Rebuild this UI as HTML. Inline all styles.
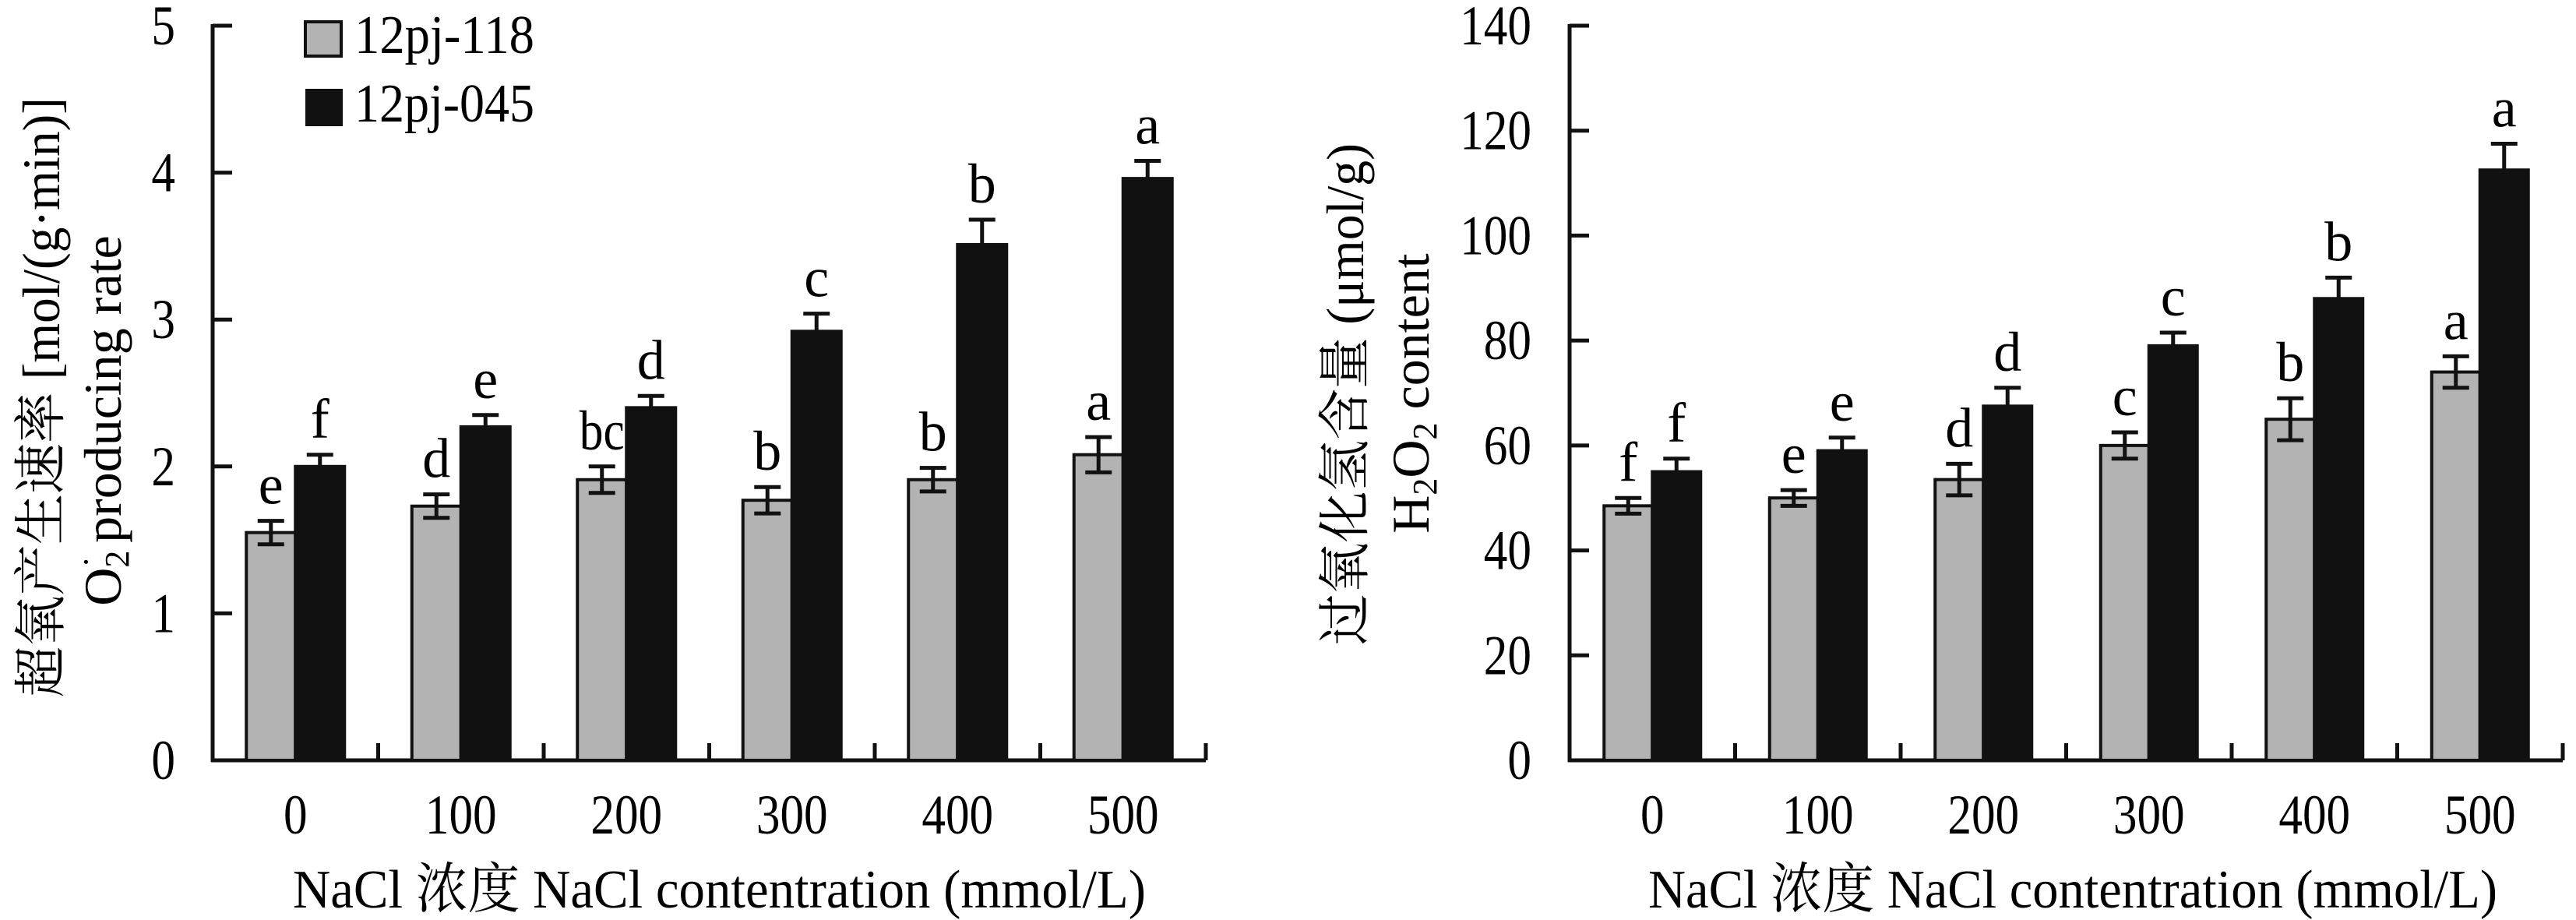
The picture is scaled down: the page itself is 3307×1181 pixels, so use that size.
<!DOCTYPE html>
<html><head><meta charset="utf-8"><style>
html,body{margin:0;padding:0;background:#fff;}
svg{display:block;font-family:"Liberation Serif","Noto Serif CJK SC",serif;}
</style></head><body>
<svg id="chart" width="3307" height="1181" viewBox="0 0 3307 1181" xmlns="http://www.w3.org/2000/svg">
  <g id="left"></g>
  <g id="right"></g>
  <g>
    <rect x="392" y="28" width="46" height="44" fill="#b3b3b3" stroke="#111" stroke-width="4"/>
    <text x="455" y="68" font-size="70" textLength="231" lengthAdjust="spacingAndGlyphs">12pj-118</text>
    <rect x="392" y="114" width="48" height="48" fill="#111"/>
    <text x="455" y="156" font-size="70" textLength="231" lengthAdjust="spacingAndGlyphs">12pj-045</text>
  </g>
  <g font-size="68">
    <text transform="translate(76,510) rotate(-90)" text-anchor="middle" textLength="770" lengthAdjust="spacingAndGlyphs">超氧产生速率 [mol/(g·min)]</text>
    <text transform="translate(155,540) rotate(-90)" text-anchor="middle">O<tspan font-size="44" dy="10">2</tspan><tspan font-size="44" dx="-22" dy="-40">·</tspan><tspan dy="30"> producing rate</tspan></text>
  </g>
  <g font-size="68">
    <text transform="translate(1750,506) rotate(-90)" text-anchor="middle" textLength="644" lengthAdjust="spacingAndGlyphs">过氧化氢含量 (μmol/g)</text>
    <text transform="translate(1834,505) rotate(-90)" text-anchor="middle">H<tspan font-size="44" dy="10">2</tspan><tspan dy="-10">O</tspan><tspan font-size="44" dy="10">2</tspan><tspan dy="-10"> content</tspan></text>
  </g>
  <text x="376" y="1165" font-size="70" textLength="1095" lengthAdjust="spacingAndGlyphs">NaCl 浓度 NaCl contentration (mmol/L)</text>
  <text x="2116" y="1165" font-size="70" textLength="1090" lengthAdjust="spacingAndGlyphs">NaCl 浓度 NaCl contentration (mmol/L)</text>
</svg>
<script>
const categories = ["0","100","200","300","400","500"];
const o2Gray = [1.55, 1.73, 1.91, 1.77, 1.91, 2.08];
const o2GrayErr = [0.08, 0.08, 0.09, 0.09, 0.08, 0.12];
const o2Black = [2.00, 2.27, 2.40, 2.92, 3.51, 3.96];
const o2BlackErr = [0.08, 0.08, 0.08, 0.12, 0.17, 0.12];
const o2GrayLetters = ["e","d","bc","b","b","a"];
const o2BlackLetters = ["f","e","d","c","b","a"];
const o2Ticks = [0,1,2,3,4,5];
const h2Gray = [48.5, 50, 53.5, 60, 65, 74];
const h2GrayErr = [1.5, 1.5, 3, 2.5, 4, 3];
const h2Black = [55, 59, 67.5, 79, 88, 112.5];
const h2BlackErr = [2.5, 2.5, 3.5, 2.5, 4, 5];
const h2GrayLetters = ["f","e","d","c","b","a"];
const h2BlackLetters = ["f","e","d","c","b","a"];
const h2Ticks = [0,20,40,60,80,100,120,140];

const NS = "http://www.w3.org/2000/svg";
function mk(parent, tag, attrs, text) {
  const e = document.createElementNS(NS, tag);
  for (const k in attrs) e.setAttribute(k, attrs[k]);
  if (text !== undefined) e.textContent = text;
  parent.appendChild(e);
  return e;
}
function drawChart(g, cfg) {
  const y0 = 976, yTop = 33;
  const yScale = v => y0 - (v - cfg.min) / (cfg.max - cfg.min) * (y0 - yTop);
  const cw = (cfg.xEnd - cfg.xAxis) / categories.length;
  const xScale = i => cfg.xAxis + cw * (i + 0.5);
  const ya = mk(g, "line", {x1: cfg.xAxis, y1: yTop - 2, x2: cfg.xAxis, y2: y0 + 2, stroke: "#111", "stroke-width": 5});
  
  
  const xa = mk(g, "line", {x1: cfg.xAxis - 2, y1: y0, x2: cfg.xEnd, y2: y0, stroke: "#111", "stroke-width": 5});
  
  
  cfg.ticks.forEach(t => {
    const y = yScale(t);
    const tk = mk(g, "line", {x1: cfg.xAxis, y1: y, x2: cfg.xAxis + 25, y2: y, stroke: "#111", "stroke-width": 5});
    
    
    const s = String(t);
    const tl = mk(g, "text", {x: cfg.labelX, y: y + 24, "text-anchor": "end", "font-size": 72, textLength: s.length * 30.6, lengthAdjust: "spacingAndGlyphs"}, s);
    
    
  });
  categories.forEach((c, i) => {
    const xt = cfg.xAxis + cw * (i + 1);
    const tk = mk(g, "line", {x1: xt, y1: y0, x2: xt, y2: y0 - 22, stroke: "#111", "stroke-width": 5});
    
    
    const cx = xScale(i);
    const xl = mk(g, "text", {x: cx, y: 1070, "text-anchor": "middle", "font-size": 72, textLength: c.length * 30.6, lengthAdjust: "spacingAndGlyphs"}, c);
    
    
    const series = [
      {v: cfg.gray[i], e: cfg.grayErr[i], l: cfg.grayL[i], x: cx - cfg.bw, fill: "#b3b3b3", name: "bar-12pj-118"},
      {v: cfg.black[i], e: cfg.blackErr[i], l: cfg.blackL[i], x: cx, fill: "#111", name: "bar-12pj-045"}
    ];
    series.forEach(s => {
      const yv = yScale(s.v);
      const r = mk(g, "rect", {x: s.x, y: yv, width: cfg.bw, height: y0 - yv, fill: s.fill, stroke: "#111", "stroke-width": 4});
      
      
      const bx = s.x + cfg.bw / 2;
      const yh = yScale(s.v + s.e), yl = yScale(s.v - s.e);
      const eb = mk(g, "path", {d: `M${bx},${yl}V${yh}M${bx-17},${yh}H${bx+17}M${bx-17},${yl}H${bx+17}`, stroke: "#111", "stroke-width": 5, fill: "none"});
      
      
      const la = {x: bx, y: yh - 22, "text-anchor": "middle", "font-size": 72};
      if (s.l.length > 1) { la.textLength = s.l.length * 29; la.lengthAdjust = "spacingAndGlyphs"; }
      const lt = mk(g, "text", la, s.l);
      
      
    });
  });
}
drawChart(document.getElementById("left"), {xAxis: 273, xEnd: 1548, labelX: 225, min: 0, max: 5, ticks: o2Ticks, bw: 63,
  gray: o2Gray, grayErr: o2GrayErr, black: o2Black, blackErr: o2BlackErr, grayL: o2GrayLetters, blackL: o2BlackLetters});
drawChart(document.getElementById("right"), {xAxis: 2015, xEnd: 3290, labelX: 1966, min: 0, max: 140, ticks: h2Ticks, bw: 62,
  gray: h2Gray, grayErr: h2GrayErr, black: h2Black, blackErr: h2BlackErr, grayL: h2GrayLetters, blackL: h2BlackLetters});
</script>
</body></html>
